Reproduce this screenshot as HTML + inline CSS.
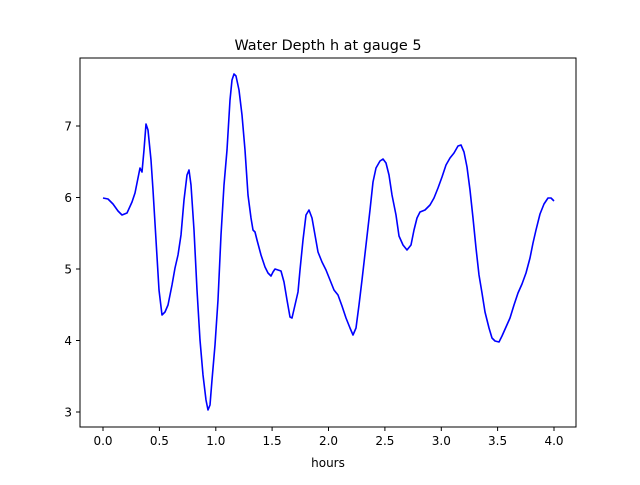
<!DOCTYPE html>
<html><head><meta charset="utf-8"><style>
html,body{margin:0;padding:0;background:#fff;}
svg text{font-family:"DejaVu Sans","Liberation Sans",sans-serif;fill:#000;}
</style></head><body>
<svg width="640" height="480" viewBox="0 0 640 480" xmlns="http://www.w3.org/2000/svg">
<rect width="640" height="480" fill="#fff"/>
<text x="328" y="50" font-size="14.4" text-anchor="middle">Water Depth h at gauge 5</text>
<polyline fill="none" stroke="#0000ff" stroke-width="1.6" stroke-linejoin="round" points="103,198 108,199 113,204 118,211 122,215 127,213 132,202 135,193 138,178 140,168 142,172 144,150 146,124 148,130 151,160 153,190 156,240 159,290 162,315 165,312 168,305 172,285 175,268 178,255 181,235 184,200 187,175 189,170 191,185 194,230 197,290 200,340 203,375 206,400 208,410 210,405 212,380 215,345 218,300 221,235 224,185 227,150 230,100 232,80 234,74 236,76 239,90 242,115 245,150 248,195 251,218 253,230 255,232 257,240 261,255 265,267 268,273 271,276 273,272 275,269 278,270 281,271 284,282 287,300 290,317 292,318 295,305 298,292 300,270 303,240 306,215 309,210 312,218 315,235 318,252 322,262 326,270 330,280 334,290 338,295 342,306 346,318 350,328 353,335 356,328 359,305 362,280 366,245 370,210 373,182 376,168 380,161 383,159 386,163 389,175 392,195 396,215 399,236 403,245 407,250 411,245 414,230 417,218 420,212 425,210 430,205 434,198 438,188 442,177 446,165 450,158 454,153 458,146 461,145 464,152 467,167 470,190 473,218 476,248 479,275 482,293 485,312 489,328 492,338 495,341 499,342 502,336 506,327 510,318 514,305 518,293 522,284 526,273 530,258 533,243 536,230 540,214 544,204 548,198 551,198 554,201"/>
<rect x="80" y="58" width="496" height="369" fill="none" stroke="#000" stroke-width="1"/>
<g stroke="#000" stroke-width="1">
<line x1="103" y1="427" x2="103" y2="431"/><line x1="159.4" y1="427" x2="159.4" y2="431"/>
<line x1="215.8" y1="427" x2="215.8" y2="431"/><line x1="272.1" y1="427" x2="272.1" y2="431"/>
<line x1="328.5" y1="427" x2="328.5" y2="431"/><line x1="384.9" y1="427" x2="384.9" y2="431"/>
<line x1="441.3" y1="427" x2="441.3" y2="431"/><line x1="497.6" y1="427" x2="497.6" y2="431"/>
<line x1="554" y1="427" x2="554" y2="431"/>
<line x1="76" y1="412" x2="80" y2="412"/><line x1="76" y1="340.5" x2="80" y2="340.5"/>
<line x1="76" y1="269" x2="80" y2="269"/><line x1="76" y1="197.5" x2="80" y2="197.5"/>
<line x1="76" y1="126" x2="80" y2="126"/>
</g>
<g font-size="12" text-anchor="middle">
<text x="103" y="445">0.0</text><text x="159.4" y="445">0.5</text><text x="215.8" y="445">1.0</text>
<text x="272.1" y="445">1.5</text><text x="328.5" y="445">2.0</text><text x="384.9" y="445">2.5</text>
<text x="441.3" y="445">3.0</text><text x="497.6" y="445">3.5</text><text x="554" y="445">4.0</text>
<text x="328" y="467">hours</text>
</g>
<g font-size="12" text-anchor="end">
<text x="72" y="416.5">3</text><text x="72" y="345">4</text><text x="72" y="273.5">5</text>
<text x="72" y="202">6</text><text x="72" y="130.5">7</text>
</g>
</svg>
</body></html>
